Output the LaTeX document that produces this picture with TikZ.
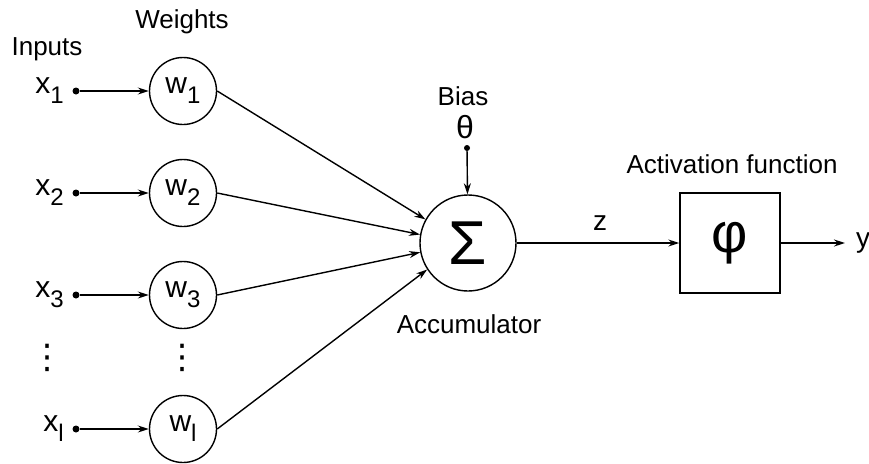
\documentclass[tikz,border=0pt]{standalone}
\usepackage{fontspec}
\setmainfont{Liberation Sans}
\newfontfamily\dotsfont{DejaVu Sans}
\usetikzlibrary{arrows.meta}

% lowered subscript for x_i and w_i
\newcommand{\lsub}[1]{\raisebox{-10pt}{\fontsize{24}{24}\selectfont #1}}

\tikzset{
  tag/.style={anchor=base, inner sep=0pt, font=\fontsize{26}{30}\selectfont},
  sym/.style={inner sep=0pt, font=\fontsize{30}{30}\selectfont},
  wire/.style={line width=1.4pt, -{Stealth[length=11pt,width=7pt]}},
  dot/.style={circle, fill, inner sep=0pt, minimum size=7pt},
  weight/.style={circle, draw, line width=1.4pt, inner sep=0pt,
                 minimum size=67pt, font=\fontsize{30}{30}\selectfont},
  vdotsnode/.style={inner sep=0pt, font=\dotsfont\fontsize{34}{34}\selectfont}
}

\begin{document}
\begin{tikzpicture}[x=1pt, y=-1pt]
  \useasboundingbox (0,0) rectangle (869,463);

  \node[tag] (inputs) at (47,55) {Inputs};
  \node[tag] (weights) at (182,28) {Weights};

  % one row per input
  \foreach \i/\y in {1/91,2/193,3/295,l/429} {
    \node[sym, anchor=east] (x\i) at (64,\y) {x\lsub{\i}};
    \node[dot] (d\i) at (76,\y) {};
    \node[weight] (w\i) at (183,\y) {w\lsub{\i}};
    \draw[wire] (d\i) -- (w\i);
  }
  \node[vdotsnode] (xdots) at (47,358) {⋮};
  \node[vdotsnode] (wdots) at (182,358) {⋮};

  % summing junction
  \node[circle, draw, line width=1.4pt, inner sep=0pt, minimum size=96pt,
        font=\fontsize{62}{62}\selectfont] (sum) at (468,243) {Σ};
  \node[tag] (acc) at (469,333) {Accumulator};
  \foreach \i/\a in {1/151,2/170,3/191,l/213}
    \draw[wire] (w\i.east) -- (sum.\a);

  \node[tag] (bias) at (463,105) {Bias};
  \node[anchor=base, inner sep=0pt, font=\fontsize{32}{32}\selectfont]
        (theta) at (465,138) {θ};
  \node[dot, minimum size=6pt] (db) at (467,148) {};
  \draw[wire] (db) -- (sum);

  % activation
  \node[draw, line width=1.4pt, minimum size=100pt, inner sep=0pt,
        font=\fontsize{56}{56}\selectfont] (act) at (730,243) {φ};
  \node[tag] (actlabel) at (732,173) {Activation function};
  \draw[wire] (sum) -- (act);
  \node[tag, font=\fontsize{28}{28}\selectfont] (z) at (600,230) {z};

  \coordinate (out) at (845,243);
  \draw[wire] (act) -- (out);
  \node[tag, font=\fontsize{28}{28}\selectfont] (y) at (863,247) {y};
\end{tikzpicture}
\end{document}
